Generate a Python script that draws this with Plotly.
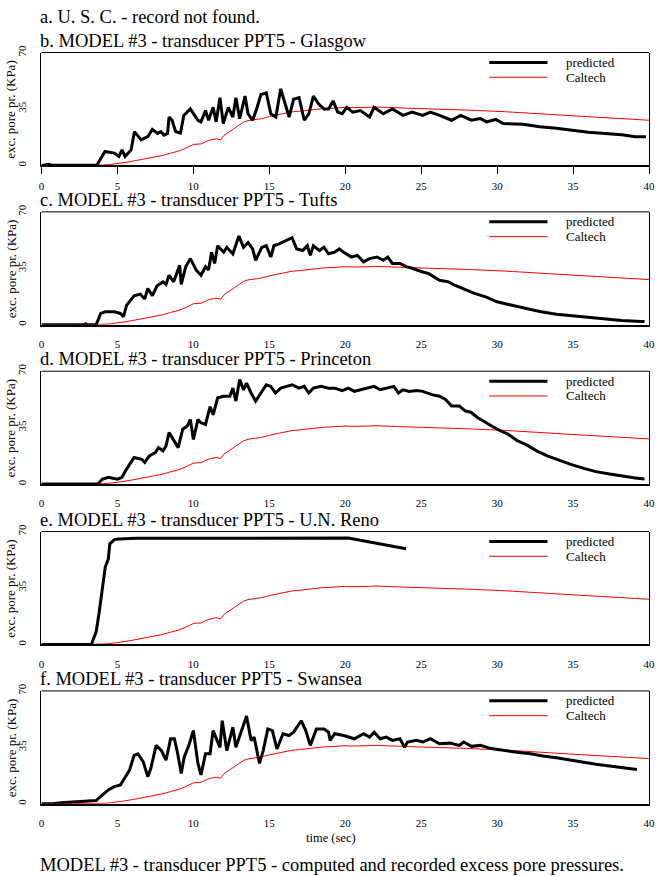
import plotly.graph_objects as go

# ---------------- data ----------------
caltech_t = [0, 1, 2, 3, 3.5, 4, 4.5, 5, 5.5, 6, 6.5, 7, 7.5, 8, 8.5, 9, 9.5, 10, 10.5, 11, 11.5, 11.8,
             12, 12.5, 13, 13.3, 13.6, 14, 14.5, 15, 15.5, 16, 16.5, 17, 17.5, 18, 18.5, 19, 19.5, 20,
             20.5, 21, 21.5, 22, 22.5, 23, 23.5, 24, 24.5, 25, 25.5, 26, 26.5, 27, 27.5, 28, 28.5, 29,
             29.5, 30, 30.5, 31, 31.5, 32, 32.5, 33, 33.5, 34, 34.5, 35, 35.5, 36, 36.5, 37, 37.5, 38,
             38.5, 39, 39.5, 40]
caltech_v = [0, 0, 0, 0, 0, 0.2, 0.5, 1.0, 1.8, 2.6, 3.4, 4.4, 5.2, 6.2, 7.6, 8.8, 10.6, 13.0, 13.3, 15.5,
             16.5, 15.8, 18.5, 21.5, 25.0, 26.8, 27.8, 28.2, 29.0, 30.3, 31.2, 32.3, 33.2, 33.6, 34.2, 34.8,
             35.2, 35.4, 35.8, 36.0, 35.8, 36.1, 36.0, 36.2, 35.9, 35.8, 35.7, 35.5, 35.4, 35.2, 35.1, 34.9,
             34.8, 34.5, 34.4, 34.3, 34.1, 34.0, 33.8, 33.5, 33.3, 33.0, 32.8, 32.5, 32.3, 32.0, 31.6, 31.3,
             31.0, 30.7, 30.5, 30.2, 30.0, 29.6, 29.4, 29.3, 28.8, 28.5, 28.3, 28.0]

glasgow_t = [0, 0.5, 0.7, 3.64, 4.18, 4.8, 5.1, 5.3, 5.5, 5.9, 6.12, 6.56, 7.0, 7.3, 7.64, 7.86, 8.07, 8.3,
             8.4, 8.6, 8.83, 9.15, 9.37, 9.8, 10.3, 10.5, 10.8, 11.0, 11.3, 11.5, 11.75, 11.97, 12.3, 12.6,
             12.8, 13.05, 13.4, 13.6, 13.9, 14.13, 14.45, 14.8, 15.1, 15.43, 15.75, 16.1, 16.3, 16.6, 16.96,
             17.3, 17.6, 17.9, 18.25, 18.6, 18.9, 19.2, 19.5, 19.8, 20.1, 20.5, 21.0, 21.6, 21.9, 22.5, 23.1,
             23.8, 24.4, 25.1, 25.6, 26.2, 27.0, 27.6, 28.3, 28.9, 29.3, 29.9, 30.4, 31.7, 32.8, 33.9, 34.9,
             36.0, 37.1, 38.2, 39.1, 39.8]
glasgow_v = [0, 0.6, 0, 0, 8.6, 7.6, 5.5, 9.6, 5.5, 9.6, 20.9, 15.8, 17.8, 22.3, 19.8, 20.9, 18.8, 19.8,
             30, 28, 21, 20, 31, 35, 28, 27, 34, 28, 36, 27, 42, 26, 36, 30, 42, 29, 43, 32, 28, 34, 44, 45,
             32, 30, 47.5, 36, 30, 41, 42, 28, 32, 43, 38, 35, 35, 40, 33, 32, 36, 33, 34, 30, 36, 32, 35,
             31, 33, 31, 33, 31, 28, 31, 28, 29, 27, 28.5, 26, 25.5, 24, 23, 21.7, 20.5, 19.8, 19, 17.8, 17.8]

tufts_t = [0, 2.8, 2.9, 3.0, 3.6, 3.9, 4.2, 4.8, 5.2, 5.4, 5.6, 6.1, 6.5, 6.8, 7.0, 7.3, 7.6, 8.0, 8.2, 8.4,
           8.7, 9.1, 9.2, 9.5, 9.8, 10.2, 10.5, 10.8, 11.0, 11.2, 11.4, 11.6, 12.0, 12.2, 12.6, 13.0, 13.3,
           13.6, 13.9, 14.1, 14.5, 14.8, 15.1, 15.3, 15.6, 16.1, 16.5, 16.8, 17.2, 17.5, 17.7, 17.9, 18.3,
           18.6, 18.9, 19.3, 19.6, 19.9, 20.4, 20.8, 21.2, 21.6, 22.1, 22.5, 22.8, 23.1, 23.6, 24.0, 24.4,
           25.0, 25.5, 26.2, 26.8, 27.2, 27.9, 28.5, 29.2, 30.0, 30.9, 31.8, 32.8, 33.9, 35.0, 36.1, 37.1,
           38.2, 39.5, 39.7]
tufts_v = [0, 0, 0.6, 0, 0, 7, 8, 8, 7, 5, 12, 18, 19, 16, 22.5, 18, 24, 26.6, 25, 30.7, 26.6, 36.8, 25,
           36, 41, 33.7, 30.7, 36, 34, 45, 38, 49, 45, 48, 44, 55, 48, 51, 47, 40, 48, 49, 42, 49, 50, 52,
           54, 47, 46, 49, 43, 49, 46, 48, 44, 45, 47, 45, 42, 43, 39, 41, 42, 40, 42, 38, 38, 36, 35, 33,
           31.7, 27.6, 26.6, 24.5, 21.5, 19.4, 17.4, 14.2, 12.2, 10.2, 8.2, 6.5, 5.5, 4.1, 3.5, 2.6, 2.0, 2.0]

princeton_t = [0, 3.7, 3.8, 4.0, 4.4, 5.0, 5.3, 5.6, 6.1, 6.6, 6.8, 7.1, 7.5, 7.7, 8.0, 8.2, 8.4, 8.7, 9.0,
               9.3, 9.6, 9.8, 10.0, 10.3, 10.5, 10.8, 11.1, 11.3, 11.6, 12.0, 12.4, 12.6, 12.8, 13.05, 13.3,
               13.5, 13.8, 14.1, 14.45, 14.8, 15.1, 15.4, 15.75, 16.1, 16.5, 16.96, 17.3, 17.6, 17.9, 18.4,
               18.9, 19.3, 19.8, 20.2, 20.6, 21.0, 21.5, 21.9, 22.3, 22.7, 23.2, 23.5, 23.8, 24.2, 24.7, 25.1,
               25.4, 25.7, 26.2, 26.6, 27.0, 27.5, 27.9, 28.3, 28.7, 29.4, 30.0, 30.7, 31.3, 32.0, 32.6, 33.3,
               33.9, 34.8, 35.7, 36.5, 37.4, 38.3, 39.1, 39.7]
princeton_v = [0, 0, 1, 3, 4.2, 3, 4.2, 9.3, 16.5, 15.4, 13.4, 17.5, 19.5, 22.6, 20.6, 23.6, 32, 27.7, 22.6,
               34, 36, 40, 27.7, 40, 38, 37, 48, 43, 53.5, 54.5, 54.5, 59.5, 51.5, 64.8, 58.5, 62.6, 56.5,
               51.5, 56.5, 61.6, 60.6, 56.5, 59.5, 60.6, 61.6, 59.5, 60.6, 56.5, 59.5, 60.6, 59.5,
               59.5, 58, 59.5, 57.5, 58.5, 59.5, 60.6, 58.5, 59.5, 60.6, 56.5, 58.5, 57.5, 58, 57.5,
               56.5, 55.5, 54.5, 52.5, 48.4, 48.4, 45.4, 44.4, 41.3, 37.2, 34, 31, 27, 24, 20.6, 17.5,
               15.4, 12.4, 9.7, 7.7, 6.2, 4.8, 3.8, 3.2]

reno_t = [0, 3.3, 3.35, 3.6, 3.8, 4.0, 4.2, 4.4, 4.5, 4.8, 5.1, 6.2, 10.5, 15.0, 20.2, 24.0]
reno_v = [0, 0, 1.6, 7.8, 20, 34.6, 48, 53, 62.4, 65, 65.4, 65.8, 66, 66, 66, 59.3]

swansea_t = [0, 0.7, 1.5, 2.5, 3.3, 3.6, 3.9, 4.4, 4.8, 5.2, 5.4, 5.8, 6.1, 6.35, 6.7, 7.0, 7.2, 7.55, 7.9,
             8.2, 8.5, 8.75, 8.97, 9.2, 9.4, 9.7, 10.0, 10.3, 10.5, 10.8, 11.1, 11.3, 11.75, 11.9, 12.2,
             12.6, 12.8, 13.2, 13.5, 13.8, 14.0, 14.35, 14.6, 14.9, 15.2, 15.5, 15.9, 16.3, 16.6, 17.1,
             17.4, 17.7, 18.1, 18.6, 18.9, 19.0, 19.3, 19.9, 20.6, 21.2, 21.6, 21.9, 22.3, 22.7, 23.1, 23.6,
             23.9, 24.1, 24.7, 25.1, 25.6, 26.2, 26.9, 27.5, 27.8, 28.3, 28.9, 29.6, 30.4, 31.3, 32.2, 33.0,
             33.9, 34.8, 35.6, 36.5, 37.4, 38.3, 39.2]
swansea_v = [0, 0, 0.8, 1.2, 1.6, 2, 4.5, 8.6, 10.6, 11.7, 14.7, 20.9, 30, 31, 26, 16.8, 22, 36.2, 33, 27,
             40.3, 40.3, 31, 18.8, 29, 36.2, 45.4, 25, 17.9, 31, 31, 45.4, 35, 51.5, 33, 47.5, 35, 46.4,
             54.4, 39.3, 41.3, 25, 33, 46.4, 45.4, 34, 43.4, 42.3, 44.4, 51.5, 45.4, 36.2, 46.4, 46.4, 44.4,
             39.3, 43.4, 42.3, 40.3, 43.4, 41.3, 44.4, 40.3, 41.3, 39.3, 40.3, 35, 38.3, 39.3, 38.3, 40.3,
             37.2, 37.6, 36.2, 38.3, 35.6, 36.2, 34.2, 33, 32, 31, 29.6, 28.5, 27, 26, 24.5, 23.4, 22.3, 21.3]

panel_titles = ["b. MODEL #3 - transducer PPT5 - Glasgow",
                "c. MODEL #3 - transducer PPT5 - Tufts",
                "d. MODEL #3 - transducer PPT5 - Princeton",
                "e. MODEL #3 - transducer PPT5 - U.N. Reno",
                "f. MODEL #3 - transducer PPT5 - Swansea"]
predicted = [(glasgow_t, glasgow_v), (tufts_t, tufts_v), (princeton_t, princeton_v),
             (reno_t, reno_v), (swansea_t, swansea_v)]
x_ticks = [0, 5, 10, 15, 20, 25, 30, 35, 40]
y_ticks = [0, 35, 70]
series_names = ["predicted", "Caltech"]

# ---------------- layout ----------------
W, H = 660, 876
FONT = "Liberation Serif, Times New Roman, serif"
TITLE_SIZE = 18.5


def px(x):
    return x / W


def py(y):
    return 1 - y / H


left, right = 39, 655
tops = [45, 206, 367, 529, 690]
height = 114

fig = go.Figure()
layout = dict(
    width=W, height=H, margin=dict(l=0, r=0, t=0, b=0),
    paper_bgcolor="white", plot_bgcolor="white", showlegend=False,
    font=dict(family=FONT, color="black"),
)
annotations = []
shapes = []

for i, (top, (pt, pv)) in enumerate(zip(tops, predicted)):
    n = i + 1
    xa = "x" if n == 1 else f"x{n}"
    ya = "y" if n == 1 else f"y{n}"
    bottom = top + height
    layout[f"xaxis{'' if n == 1 else n}"] = dict(
        domain=[px(left), px(right)], anchor=ya, range=[0, 40],
        tickvals=x_ticks, ticks="outside" if n == 1 else "", ticklen=7, tickcolor="black",
        showline=True, linecolor="black", linewidth=2, mirror=False,
        showgrid=False, zeroline=False, tickfont=dict(size=11, family=FONT),
        ticklabelstandoff=2 if n == 1 else 8, ticklabeloverflow="allow",
    )
    layout[f"yaxis{'' if n == 1 else n}"] = dict(
        domain=[py(bottom), py(top)], anchor=xa, range=[0, 70],
        tickvals=y_ticks, ticks="", tickangle=-90,
        showline=True, linecolor="black", linewidth=1, mirror=True,
        showgrid=False, zeroline=False, tickfont=dict(size=11, family=FONT),
        ticklabelstandoff=10, ticklabeloverflow="allow",
    )
    fig.add_trace(go.Scatter(x=caltech_t, y=caltech_v, mode="lines", xaxis=xa, yaxis=ya,
                             line=dict(color="#ff0000", width=1), name=series_names[1]))
    fig.add_trace(go.Scatter(x=pt, y=pv, mode="lines", xaxis=xa, yaxis=ya,
                             line=dict(color="black", width=3), name=series_names[0]))
    # top border
    shapes.append(dict(type="line", xref="paper", yref="paper", x0=px(left), x1=px(right),
                       y0=py(top), y1=py(top), line=dict(color="black", width=1)))
    # legend
    shapes.append(dict(type="line", xref="paper", yref="paper", x0=px(493), x1=px(552),
                       y0=py(top + 10), y1=py(top + 10), line=dict(color="black", width=3)))
    shapes.append(dict(type="line", xref="paper", yref="paper", x0=px(493), x1=px(552),
                       y0=py(top + 25), y1=py(top + 25), line=dict(color="#ff0000", width=1)))
    annotations.append(dict(text=series_names[0], xref="paper", yref="paper", x=px(569), y=py(top + 10),
                            xanchor="left", yanchor="middle", showarrow=False, font=dict(size=13, family=FONT)))
    annotations.append(dict(text=series_names[1], xref="paper", yref="paper", x=px(569), y=py(top + 25),
                            xanchor="left", yanchor="middle", showarrow=False, font=dict(size=13, family=FONT)))
    # title
    annotations.append(dict(text=panel_titles[i], xref="paper", yref="paper", x=px(35), y=py(top - 12),
                            xanchor="left", yanchor="middle", showarrow=False,
                            font=dict(size=TITLE_SIZE, family=FONT)))
    # y axis title
    annotations.append(dict(text="exc. pore pr. (KPa)", xref="paper", yref="paper", x=px(8),
                            y=py(top + height / 2), textangle=-90, xanchor="center", yanchor="middle",
                            showarrow=False, font=dict(size=13, family=FONT)))

annotations.append(dict(text="a. U. S. C. - record not found.", xref="paper", yref="paper", x=px(35), y=py(9),
                        xanchor="left", yanchor="middle", showarrow=False, font=dict(size=TITLE_SIZE, family=FONT)))
annotations.append(dict(text="time (sec)", xref="paper", yref="paper", x=px(333), y=py(839),
                        xanchor="center", yanchor="middle", showarrow=False, font=dict(size=12.5, family=FONT)))
annotations.append(dict(text="MODEL #3 - transducer PPT5 - computed and recorded excess pore pressures.",
                        xref="paper", yref="paper", x=px(35), y=py(866), xanchor="left", yanchor="middle",
                        showarrow=False, font=dict(size=TITLE_SIZE, family=FONT)))

layout["annotations"] = annotations
layout["shapes"] = shapes
fig.update_layout(**layout)
fig.write_html(
    "out.html",
    config={"displayModeBar": False, "staticPlot": True},
    post_script=(
        "document.documentElement.style.margin='0';document.body.style.margin='0';"
        "document.body.style.padding='0';document.body.style.overflow='hidden';"
        "var d=document.getElementById('{plot_id}');d.style.position='fixed';"
        "d.style.left='0px';d.style.top='0px';"
    ),
)
